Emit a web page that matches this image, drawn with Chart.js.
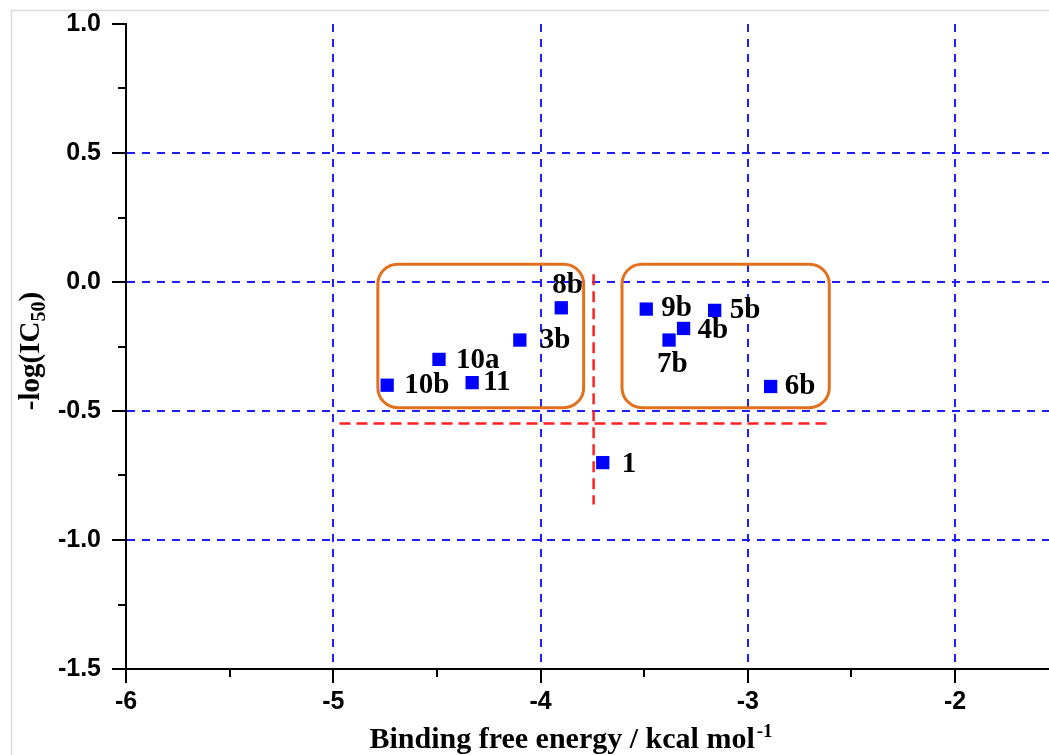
<!DOCTYPE html>
<html><head><meta charset="utf-8">
<script src="https://cdn.jsdelivr.net/npm/chart.js@4.4.0/dist/chart.umd.min.js"></script>
<style>html,body{margin:0;padding:0;background:#fff;overflow:hidden}</style>
</head><body>
<canvas id="c" width="1049" height="755" style="display:block;width:1049px;height:755px"></canvas>
<script>
// ---- data ----
const compoundLabels = ['10b','10a','11','3b','8b','1','9b','7b','4b','5b','6b'];
const bindingEnergy  = [-4.74,-4.49,-4.33,-4.10,-3.90,-3.70,-3.49,-3.38,-3.31,-3.16,-2.89];
const logIC50        = [-0.40,-0.30,-0.39,-0.225,-0.10,-0.70,-0.105,-0.225,-0.18,-0.11,-0.405];
const xTickLabels = ['-6','-5','-4','-3','-2'];
const yTickLabels = ['1.0','0.5','0.0','-0.5','-1.0','-1.5'];
const xRange = [-6, -1.547];
const yRange = [-1.5, 1.0];
// group boxes (data units) and cutoff lines
const boxLeftX  = [-4.785, -3.792];
const boxRightX = [-3.607, -2.607];
const boxY      = [0.069, -0.487];
const cutoffY = -0.548, cutoffYSpan = [-4.97, -2.62];
const cutoffX = -3.744, cutoffXSpan = [0.030, -0.862];

// ---- styles / label placement (px) ----
const labelOffsets = {'10b':[17,0],'10a':[17,1],'11':[11,0],'3b':[20,0],'8b':[-9,-22],'1':[19,2],
  '9b':[15,-1],'7b':[-12,24],'4b':[14,2],'5b':[15,0],'6b':[14,0]};
const BLUE = '#1e1eff';
const TRANSPARENT = 'rgba(0,0,0,0)';
function isLabeled(list, v){ return list.some(l => Math.abs(Number(l) - v) < 1e-9); }
function labelFor(list, v){ const f = list.find(l => Math.abs(Number(l) - v) < 1e-9); return f === undefined ? '' : f; }

const decor = {
  id: 'decor',
  beforeDraw(chart){
    const c = chart.ctx; c.save();
    c.fillStyle = '#fff'; c.fillRect(0,0,chart.width,chart.height);
    c.strokeStyle = '#dcdcdc'; c.lineWidth = 1.5;
    c.beginPath(); c.moveTo(11.5, chart.height); c.lineTo(11.5, 10.5); c.lineTo(chart.width, 10.5); c.stroke();
    c.restore();
  },
  beforeDatasetsDraw(chart){
    const c = chart.ctx, xs = chart.scales.x, ys = chart.scales.y;
    c.save();
    // red cutoff lines
    c.strokeStyle = '#ff2020'; c.lineWidth = 2.5; c.setLineDash([11,6]);
    c.beginPath();
    c.moveTo(xs.getPixelForValue(cutoffYSpan[0]), ys.getPixelForValue(cutoffY));
    c.lineTo(xs.getPixelForValue(cutoffYSpan[1]), ys.getPixelForValue(cutoffY));
    c.stroke();
    c.beginPath();
    c.moveTo(xs.getPixelForValue(cutoffX), ys.getPixelForValue(cutoffXSpan[0]));
    c.lineTo(xs.getPixelForValue(cutoffX), ys.getPixelForValue(cutoffXSpan[1]));
    c.stroke();
    // orange boxes
    c.setLineDash([]); c.strokeStyle = '#e2701c'; c.lineWidth = 3;
    [boxLeftX, boxRightX].forEach(bx => {
      const x0 = xs.getPixelForValue(bx[0]), x1 = xs.getPixelForValue(bx[1]);
      const y0 = ys.getPixelForValue(boxY[0]), y1 = ys.getPixelForValue(boxY[1]);
      c.beginPath(); c.roundRect(x0, y0, x1 - x0, y1 - y0, 20); c.stroke();
    });
    c.restore();
  },
  afterDatasetsDraw(chart){
    const c = chart.ctx, meta = chart.getDatasetMeta(0);
    c.save();
    c.font = 'bold 29px "Liberation Serif", "Times New Roman", serif';
    c.fillStyle = '#000'; c.textAlign = 'left'; c.textBaseline = 'middle';
    meta.data.forEach((pt, i) => {
      const name = compoundLabels[i]; const o = labelOffsets[name] || [15,0];
      c.fillText(name, pt.x + o[0], pt.y + o[1]);
    });
    c.restore();
  },
  afterDraw(chart){
    const c = chart.ctx, xs = chart.scales.x, ys = chart.scales.y, ca = chart.chartArea;
    c.save();
    // minor ticks
    c.strokeStyle = '#000'; c.lineWidth = 2;
    xs.ticks.forEach(t => {
      if (!isLabeled(xTickLabels, t.value) && t.value > xRange[0] && t.value < xRange[1]) {
        const p = Math.round(xs.getPixelForValue(t.value));
        c.beginPath(); c.moveTo(p, ca.bottom); c.lineTo(p, ca.bottom + 8); c.stroke();
      }
    });
    ys.ticks.forEach(t => {
      if (!isLabeled(yTickLabels, t.value) && t.value > yRange[0] && t.value < yRange[1]) {
        const p = Math.round(ys.getPixelForValue(t.value));
        c.beginPath(); c.moveTo(ca.left, p); c.lineTo(ca.left - 8, p); c.stroke();
      }
    });
    // x axis title with superscript
    c.fillStyle = '#000'; c.textBaseline = 'alphabetic'; c.textAlign = 'left';
    const mainF = 'bold 30px "Liberation Serif", "Times New Roman", serif';
    const supF = 'bold 19px "Liberation Serif", "Times New Roman", serif';
    const xt = 'Binding free energy / kcal mol', xs1 = '-1';
    c.font = mainF; const w1 = c.measureText(xt).width;
    c.font = supF; const w2 = c.measureText(xs1).width;
    const start = 571 - (w1 + w2 + 2) / 2;
    c.font = mainF; c.fillText(xt, start, 748);
    c.font = supF; c.fillText(xs1, start + w1 + 2, 737);
    // y axis title with subscript
    c.save();
    c.translate(39, 351); c.rotate(-Math.PI/2);
    const p1 = '-log(IC', p2 = '50', p3 = ')';
    const f1 = 'bold 29px "Liberation Serif", "Times New Roman", serif';
    const f2 = 'bold 20px "Liberation Serif", "Times New Roman", serif';
    c.font = f1; const a = c.measureText(p1).width, cc = c.measureText(p3).width;
    c.font = f2; const b = c.measureText(p2).width;
    let s = -(a + b + cc) / 2;
    c.font = f1; c.fillText(p1, s, 0);
    c.font = f2; c.fillText(p2, s + a, 6);
    c.font = f1; c.fillText(p3, s + a + b, 0);
    c.restore();
    c.restore();
  }
};

const tickFont = {family: '"Liberation Sans", Arial, sans-serif', size: 25, weight: 'bold'};

new Chart(document.getElementById('c'), {
  type: 'scatter',
  data: {
    datasets: [{
      label: '-log(IC50)',
      data: bindingEnergy.map((x, i) => ({x, y: logIC50[i]})),
      pointStyle: 'rect',
      pointRadius: 9.4,
      pointHoverRadius: 9.4,
      backgroundColor: '#0000ff',
      borderWidth: 0
    }]
  },
  options: {
    responsive: false,
    animation: false,
    devicePixelRatio: 1,
    layout: {autoPadding: false, padding: {top: 24, right: 0, left: 0, bottom: 0}},
    plugins: {legend: {display: false}, tooltip: {enabled: false}},
    scales: {
      x: {
        type: 'linear', min: xRange[0], max: xRange[1], bounds: 'data',
        afterFit: s => { s.height = 86; s.paddingRight = 0; s.paddingLeft = 0; },
        ticks: {
          stepSize: 0.5, includeBounds: false, autoSkip: false, maxRotation: 0, minRotation: 0,
          padding: 4, color: '#000', font: tickFont,
          callback: v => labelFor(xTickLabels, v)
        },
        grid: {
          lineWidth: 2, tickLength: 14, tickWidth: 2,
          color: ctx => (ctx.tick && isLabeled(xTickLabels, ctx.tick.value) && ctx.tick.value !== xRange[0]) ? BLUE : TRANSPARENT,
          tickColor: ctx => (ctx.tick && isLabeled(xTickLabels, ctx.tick.value)) ? '#000' : TRANSPARENT
        },
        border: {display: true, color: '#000', width: 2, dash: [8,7]}
      },
      y: {
        type: 'linear', min: yRange[0], max: yRange[1],
        afterFit: s => { s.width = 126; s.paddingTop = 0; s.paddingBottom = 0; },
        ticks: {
          stepSize: 0.25, autoSkip: false, padding: 11, color: '#000', font: tickFont,
          callback: v => labelFor(yTickLabels, v)
        },
        grid: {
          lineWidth: 2, tickLength: 14, tickWidth: 2,
          color: ctx => (ctx.tick && isLabeled(yTickLabels, ctx.tick.value) && ctx.tick.value !== yRange[0] && ctx.tick.value !== yRange[1]) ? BLUE : TRANSPARENT,
          tickColor: ctx => (ctx.tick && isLabeled(yTickLabels, ctx.tick.value)) ? '#000' : TRANSPARENT
        },
        border: {display: true, color: '#000', width: 2, dash: [8,7]}
      }
    }
  },
  plugins: [decor]
});
</script>
</body></html>
